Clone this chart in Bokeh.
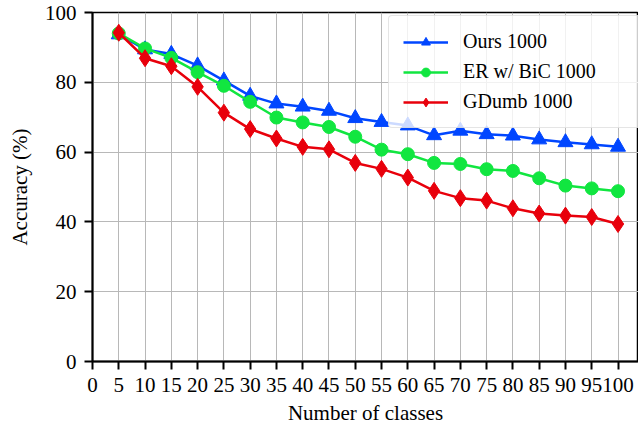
from bokeh.plotting import figure
from bokeh.embed import file_html
from bokeh.resources import INLINE
from bokeh.models import FixedTicker, Range1d

classes = [5, 10, 15, 20, 25, 30, 35, 40, 45, 50, 55, 60, 65, 70, 75, 80, 85, 90, 95, 100]
ours = [93.7, 89.4, 88.1, 84.8, 80.5, 76.1, 73.9, 73.0, 71.8, 69.7, 68.6, 67.6, 64.8, 66.1, 65.1, 64.7, 63.6, 62.8, 62.2, 61.5]
er_bic = [94.0, 89.7, 87.0, 82.9, 79.0, 74.4, 69.9, 68.5, 67.2, 64.4, 60.7, 59.4, 56.9, 56.6, 55.1, 54.6, 52.5, 50.4, 49.6, 48.8]
gdumb = [94.2, 86.9, 84.6, 78.7, 71.3, 66.6, 63.9, 61.5, 60.8, 56.9, 55.2, 52.7, 48.9, 46.8, 46.1, 43.9, 42.4, 41.8, 41.4, 39.4]
x_ticks = list(range(0, 101, 5))
y_ticks = [0, 20, 40, 60, 80, 100]

FONT = "Liberation Serif"
BLUE = "#0046ff"
GREEN = "#11e640"
RED = "#e8000b"

p = figure(width=638, height=428, output_backend="svg", toolbar_location=None,
           x_range=Range1d(0, 103.9), y_range=Range1d(0, 100),
           min_border_left=92, min_border_top=12, min_border_right=0, min_border_bottom=67)

p.line(classes, ours, color=BLUE, line_width=2.5, legend_label="Ours 1000")
p.scatter(classes, ours, marker="triangle", size=15, color=BLUE, legend_label="Ours 1000")
p.line(classes, er_bic, color=GREEN, line_width=2.5, legend_label="ER w/ BiC 1000")
p.scatter(classes, er_bic, marker="circle", size=13, color=GREEN, legend_label="ER w/ BiC 1000")
p.line(classes, gdumb, color=RED, line_width=2.5, legend_label="GDumb 1000")
p.scatter(classes, gdumb, marker="diamond", size=17, color=RED, legend_label="GDumb 1000")

p.xaxis.ticker = FixedTicker(ticks=x_ticks)
p.yaxis.ticker = FixedTicker(ticks=y_ticks)
p.xgrid.ticker = FixedTicker(ticks=x_ticks)
p.ygrid.ticker = FixedTicker(ticks=y_ticks)
for g in (p.xgrid, p.ygrid):
    g.grid_line_color = "#b8b8b8"
    g.grid_line_width = 1

for ax in (p.xaxis, p.yaxis):
    ax.axis_line_color = "black"
    ax.axis_line_width = 2
    ax.major_tick_line_color = "black"
    ax.major_tick_line_width = 2
    ax.major_tick_out = 8
    ax.major_tick_in = 0
    ax.minor_tick_line_color = None
    ax.major_label_text_font = FONT
    ax.major_label_text_font_size = "21px"
    ax.major_label_text_color = "black"
    ax.axis_label_text_font = FONT
    ax.axis_label_text_font_size = "21px"
    ax.axis_label_text_font_style = "normal"
    ax.axis_label_text_color = "black"
    ax.major_label_standoff = 8

p.xaxis.axis_label = "Number of classes"
p.yaxis.axis_label = "Accuracy (%)"
p.xaxis.axis_label_standoff = 6
p.yaxis.axis_label_standoff = 10

p.outline_line_color = "black"
p.outline_line_width = 1.5

p.legend.location = (296, 233)
p.legend.label_text_font = FONT
p.legend.label_text_font_size = "20px"
p.legend.label_text_color = "black"
p.legend.glyph_width = 45
p.legend.glyph_height = 22
p.legend.label_height = 22
p.legend.label_standoff = 15
p.legend.label_width = 168
p.legend.spacing = 7
p.legend.padding = 14
p.legend.border_line_color = "#cccccc"
p.legend.border_line_width = 1.5
p.legend.border_radius = 4
p.legend.background_fill_alpha = 0.8

open("out.html", "w").write(file_html(p, INLINE))
